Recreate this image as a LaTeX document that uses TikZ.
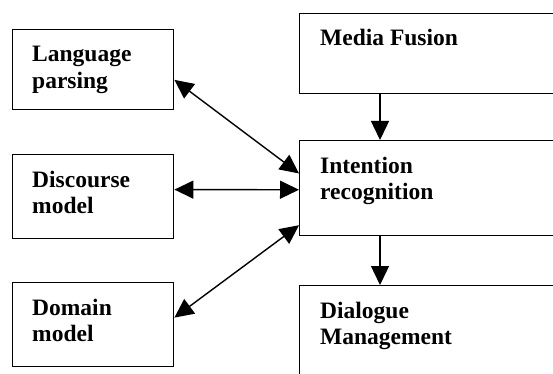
\documentclass[tikz,border=0pt]{standalone}
\usepackage{fontspec}
\setmainfont{Liberation Serif}
\usetikzlibrary{arrows.meta,calc}
\begin{document}
\begin{tikzpicture}[x=1pt,y=-1pt,
  box/.style={draw=black, line width=1.4pt, rectangle, inner sep=0pt, anchor=north west},
  lbl/.style={anchor=base west, inner sep=0pt, align=left, font=\fontsize{23.5}{26.5}\selectfont\bfseries},
  conn/.style={line width=1.4pt, -{Triangle[length=19pt,width=18pt]}},
  bconn/.style={line width=1.4pt, {Triangle[length=19pt,width=18pt]}-{Triangle[length=19pt,width=18pt]}}
]
\useasboundingbox (0,0) rectangle (553,374);
\clip (0,0) rectangle (553,374);
% left boxes
\node[box, minimum width=161pt, minimum height=80pt] (lang) at (12,29) {};
\node[box, minimum width=161pt, minimum height=84pt] (disc) at (12,154) {};
\node[box, minimum width=161pt, minimum height=84pt] (dom) at (12,282) {};
% right boxes (cut off at the picture's edge)
\node[box, minimum width=280pt, minimum height=80pt] (media) at (299,13) {};
\node[box, minimum width=280pt, minimum height=95pt] (intent) at (299,140) {};
\node[box, minimum width=280pt, minimum height=120pt] (dial) at (299,285) {};
% texts (base anchor = baseline of the last line)
\node[lbl] (tlang) at (32,88.5) {Language\\parsing};
\node[lbl] (tdisc) at (32,213.5) {Discourse\\model};
\node[lbl] (tdom) at (32,341.5) {Domain\\model};
\node[lbl] (tmedia) at (320,46) {Media Fusion};
\node[lbl] (tint) at (320,199.5) {Intention\\recognition};
\node[lbl] (tdial) at (320,344.5) {Dialogue\\Management};
% connectors
\draw[conn] (media.south -| 380,0) -- (intent.north -| 380,0);
\draw[conn] (intent.south -| 380,0) -- (dial.north -| 380,0);
\draw[bconn] ($(lang.north east)!0.625!(lang.south east)$) -- ($(intent.north west)!0.347!(intent.south west)$);
\draw[bconn] ($(disc.north east)!0.417!(disc.south east)$) -- ($(intent.north west)!0.516!(intent.south west)$);
\draw[bconn] ($(dom.north east)!0.417!(dom.south east)$) -- ($(intent.north west)!0.884!(intent.south west)$);
\end{tikzpicture}
\end{document}
